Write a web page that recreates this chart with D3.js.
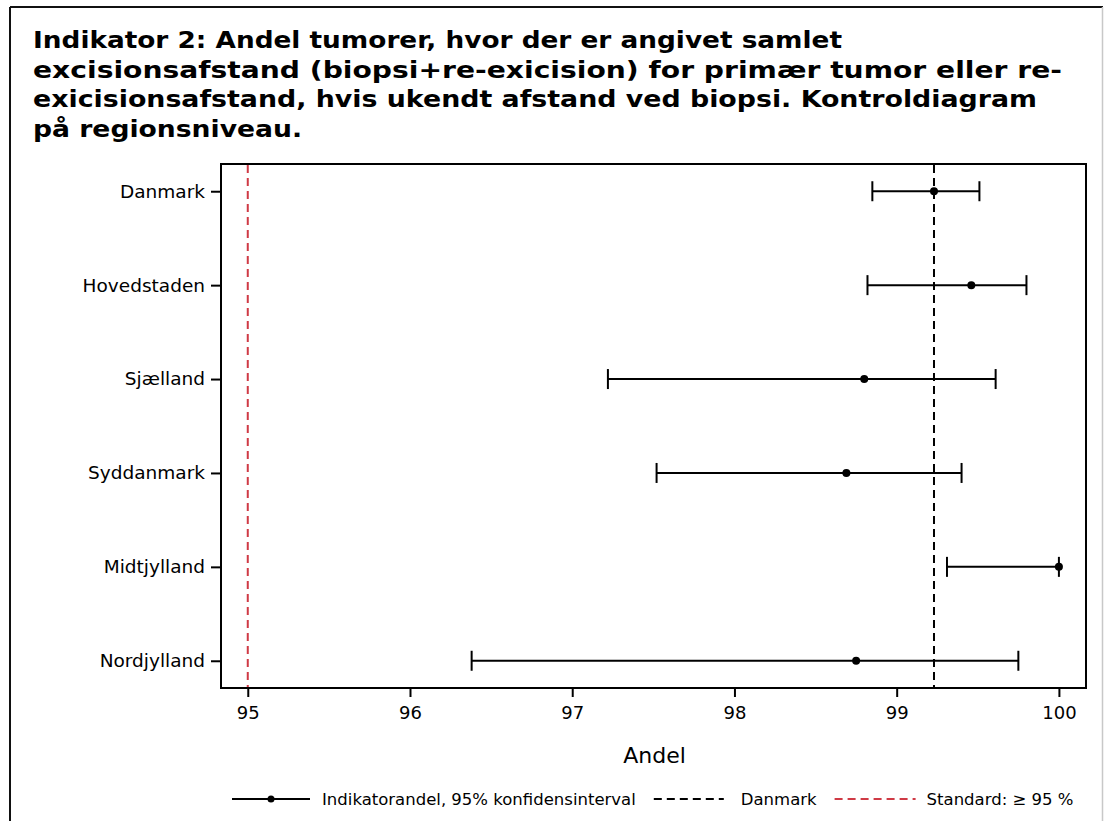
<!DOCTYPE html>
<html>
<head>
<meta charset="utf-8">
<script src="https://cdn.jsdelivr.net/npm/d3@7"></script>
<style>
  html, body { margin: 0; padding: 0; background: #fff; }
  svg { display: block; font-family: "DejaVu Sans", sans-serif; }
</style>
</head>
<body>
<svg id="chart" width="1104" height="821"></svg>
<script>
// Regions (top to bottom) and their indicator share with 95% confidence interval
const regions   = ["Danmark", "Hovedstaden", "Sjælland", "Syddanmark", "Midtjylland", "Nordjylland"];
const estimate  = [99.23, 99.46, 98.80, 98.69, 100.0, 98.75];
const lowerCI   = [98.85, 98.82, 97.22, 97.52, 99.31, 96.38];
const upperCI   = [99.51, 99.80, 99.61, 99.40, 100.0, 99.75];
const xTicks    = [95, 96, 97, 98, 99, 100];
const nationalLevel = 99.23;   // Danmark reference line
const standardLevel = 95;      // target standard

const titleLines = [
  "Indikator 2: Andel tumorer, hvor der er angivet samlet",
  "excisionsafstand (biopsi+re-exicision) for primær tumor eller re-",
  "exicisionsafstand, hvis ukendt afstand ved biopsi. Kontroldiagram",
  "på regionsniveau."
];
const titleWidths = [809, 1029, 1004, 269];

const legendLabels = ["Indikatorandel, 95% konfidensinterval", "Danmark", "Standard: \u2265 95 %"];
const legendKinds  = ["ci", "dash", "std"];

const svg = d3.select("#chart");
const RED = "#cf3a45";

// Outer frame
svg.append("line").attr("x1", 10).attr("x2", 10).attr("y1", 7).attr("y2", 821)
  .attr("stroke", "#111").attr("stroke-width", 2);
svg.append("line").attr("x1", 10).attr("x2", 1103).attr("y1", 7).attr("y2", 7)
  .attr("stroke", "#111").attr("stroke-width", 2);
svg.append("line").attr("x1", 1102.5).attr("x2", 1102.5).attr("y1", 7).attr("y2", 821)
  .attr("stroke", "#c8c8c8").attr("stroke-width", 1.5);

// Title
const title = svg.append("g");
titleLines.forEach((t, i) => {
  title.append("text")
    .attr("x", 33).attr("y", 48 + i * 29.7)
    .attr("font-size", 23).attr("font-weight", "bold")
    .attr("textLength", titleWidths[i]).attr("lengthAdjust", "spacingAndGlyphs")
    .attr("fill", "#000")
    .text(t);
});

// Plot area
const plot = { left: 221, right: 1086, top: 164, bottom: 688 };

const x = d3.scaleLinear().domain([94.835, 100.167]).range([plot.left, plot.right]);
const y = d3.scalePoint().domain(regions).range([plot.top, plot.bottom]).padding(0.29);

// Axes
const xAxis = svg.append("g")
  .attr("transform", `translate(0,${plot.bottom})`)
  .call(d3.axisBottom(x).tickValues(xTicks).tickSize(9).tickPadding(9).tickFormat(d3.format("d")));
const yAxis = svg.append("g")
  .attr("transform", `translate(${plot.left},0)`)
  .call(d3.axisLeft(y).tickSize(10).tickPadding(6));

[xAxis, yAxis].forEach(a => {
  a.select(".domain").remove();
  a.selectAll(".tick line").attr("stroke", "#000").attr("stroke-width", 2);
  a.selectAll(".tick text").attr("fill", "#000")
    .attr("font-family", "DejaVu Sans, sans-serif");
});
xAxis.selectAll(".tick text").attr("font-size", 18);
yAxis.selectAll(".tick text").attr("font-size", 18.5);

// Frame around the plot
svg.append("rect")
  .attr("x", plot.left).attr("y", plot.top)
  .attr("width", plot.right - plot.left).attr("height", plot.bottom - plot.top)
  .attr("fill", "none").attr("stroke", "#000").attr("stroke-width", 2);

// Reference lines
svg.append("line")
  .attr("x1", x(standardLevel)).attr("x2", x(standardLevel))
  .attr("y1", plot.top + 1).attr("y2", plot.bottom - 1)
  .attr("stroke", RED).attr("stroke-width", 2).attr("stroke-dasharray", "8,5");
svg.append("line")
  .attr("x1", x(nationalLevel)).attr("x2", x(nationalLevel))
  .attr("y1", plot.top + 1).attr("y2", plot.bottom - 1)
  .attr("stroke", "#000").attr("stroke-width", 2).attr("stroke-dasharray", "8,5");

// Confidence intervals and point estimates
const rows = regions.map((r, i) => ({ region: r, est: estimate[i], lo: lowerCI[i], hi: upperCI[i] }));
const g = svg.append("g").selectAll("g").data(rows).join("g");
g.append("line")
  .attr("x1", d => x(d.lo)).attr("x2", d => x(d.hi))
  .attr("y1", d => y(d.region)).attr("y2", d => y(d.region))
  .attr("stroke", "#000").attr("stroke-width", 2);
["lo", "hi"].forEach(k => {
  g.append("line")
    .attr("x1", d => x(d[k])).attr("x2", d => x(d[k]))
    .attr("y1", d => y(d.region) - 10).attr("y2", d => y(d.region) + 10)
    .attr("stroke", "#000").attr("stroke-width", 2);
});
g.append("circle")
  .attr("cx", d => x(d.est)).attr("cy", d => y(d.region))
  .attr("r", 4).attr("fill", "#000");

// Axis title
svg.append("text")
  .attr("x", (plot.left + plot.right) / 2 + 1).attr("y", 763)
  .attr("text-anchor", "middle").attr("font-size", 22)
  .text("Andel");

// Legend: symbol, label, then the next entry flows after it
const legend = svg.append("g").attr("transform", "translate(232,799)");
const symbolLen = [78, 70, 81];
const labelGap  = [12, 17, 11];
let lx = 0;
legendLabels.forEach((label, i) => {
  const kind = legendKinds[i];
  const sw = symbolLen[i];
  const ln = legend.append("line").attr("x1", lx).attr("x2", lx + sw).attr("y1", 0).attr("y2", 0)
    .attr("stroke-width", 2);
  if (kind === "ci") {
    ln.attr("stroke", "#000");
    legend.append("circle").attr("cx", lx + sw / 2).attr("cy", 0).attr("r", 3.5).attr("fill", "#000");
  } else {
    ln.attr("stroke", kind === "std" ? RED : "#000").attr("stroke-dasharray", "8,5");
  }
  const txt = legend.append("text")
    .attr("x", lx + sw + labelGap[i]).attr("y", 5.8)
    .attr("font-size", 16.5)
    .text(label);
  lx += sw + labelGap[i] + txt.node().getComputedTextLength() + 18;
});
</script>
</body>
</html>
